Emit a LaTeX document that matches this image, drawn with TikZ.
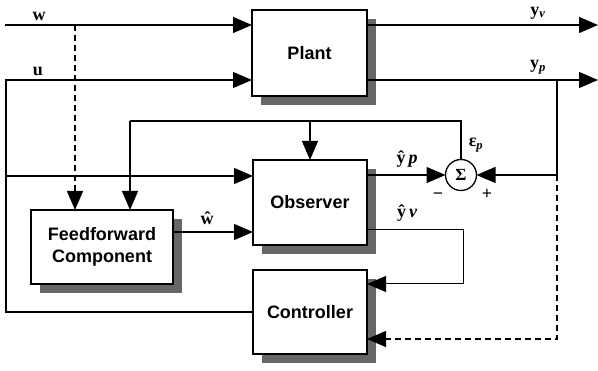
\documentclass[tikz,border=0pt]{standalone}
\usepackage{fontspec}
\setmainfont{Liberation Serif}
\newfontfamily\boxfont{Liberation Sans}
\usetikzlibrary{arrows.meta,shadows}
\begin{document}
\begin{tikzpicture}[x=1pt,y=-1pt,
  line width=1.3pt,
  arr/.style={-{Triangle[length=19pt,width=16pt]}},
  blk/.style={draw,fill=white,inner sep=0pt,outer sep=0pt,align=center,
    font=\boxfont\bfseries\fontsize{18}{22}\selectfont,
    general shadow={fill=black!60,shadow xshift=9pt,shadow yshift=-9pt}},
  lbl/.style={font=\bfseries\fontsize{18}{20}\selectfont,inner sep=0pt},
  dsh/.style={dash pattern=on 6pt off 4pt}]
\useasboundingbox (0,0) rectangle (598,371);
% blocks
\node[blk,minimum width=115pt,minimum height=86pt] (plant) at (309.5,53) {Plant};
\node[blk,minimum width=114pt,minimum height=85pt] (obs) at (310,202.5) {Observer};
\node[blk,minimum width=114pt,minimum height=84pt] (ctrl) at (310,312) {Controller};
\node[blk,minimum width=142pt,minimum height=74pt] (ff) at (102,247) {Feedforward\\Component};
\node[draw,circle,minimum size=31pt,inner sep=0pt,outer sep=0pt,fill=white,font=\bfseries\fontsize{17}{17}\selectfont] (sig) at (461,175) {Σ};
% coordinates
\coordinate (win) at (5,25);
\coordinate (ul) at (6,80);
\coordinate (oi) at (6,176);
\coordinate (dtop) at (75,25);
\coordinate (fbL) at (130,121);
\coordinate (fbR) at (461,121);
\coordinate (yvend) at (598,25);
\coordinate (ypend) at (598,80);
\coordinate (tap) at (557,80);
\coordinate (tapS) at (557,175);
\coordinate (tapB) at (557,339);
\coordinate (yvh) at (463,230);
\coordinate (yvh2) at (463,284);
% connectors
\draw[arr] (win) -- (plant.west |- win);
\draw[arr] (ctrl.west) -| (ul) -- (plant.west |- ul);
\draw[arr] (oi) -- (obs.west |- oi);
\draw[arr,dsh] (dtop) -- (ff.north -| dtop);
\draw (sig.north) -- (fbR) -- (fbL);
\draw[arr] (fbL) -- (ff.north -| fbL);
\draw[arr] (obs.north |- fbL) -- (obs.north);
\draw[arr] (plant.east |- yvend) -- (yvend);
\draw[arr] (plant.east |- ypend) -- (ypend);
\draw[arr] (obs.east |- sig) -- (sig.west);
\draw[arr] (tap) -- (tapS) -- (sig.east);
\draw[arr,dsh] (tapS) -- (tapB) -- (ctrl.east |- tapB);
\draw[arr,line width=1pt] (obs.east |- yvh) -- (yvh) -- (yvh2) -- (ctrl.east |- yvh2);
\draw[arr] (ff.east |- 0,232) -- (obs.west |- 0,232);
% labels
\node[lbl] (lw) at (39,16) {w};
\node[lbl] (lu) at (38,71) {u};
\node[lbl] (lyv) at (538,13) {y\textsubscript{\itshape v}};
\node[lbl] (lyp) at (538,67) {y\textsubscript{\itshape p}};
\node[lbl] (lyph) at (407,159) {ŷ\,{\itshape p}};
\node[lbl] (lep) at (476,145) {ε\textsubscript{\itshape p}};
\node[lbl] (lwh) at (207,218) {ŵ};
\node[lbl] (lyvh) at (407,213) {ŷ\,{\itshape v}};
\node[lbl] (lm) at (438,196) {−};
\node[lbl] (lp) at (487,194) {+};
\end{tikzpicture}
\end{document}
